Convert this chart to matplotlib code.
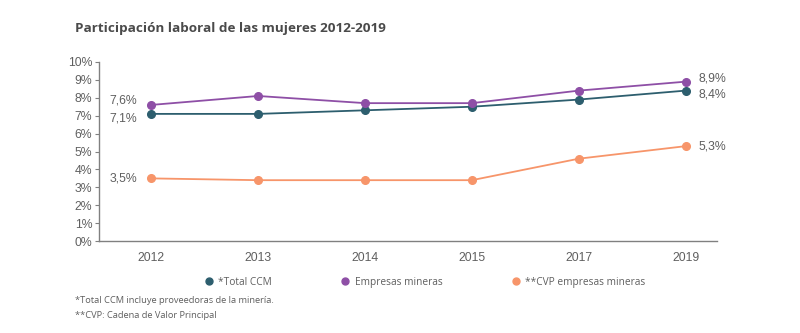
import matplotlib.pyplot as plt
from matplotlib.lines import Line2D

years = ['2012', '2013', '2014', '2015', '2017', '2019']
total_ccm = [7.1, 7.1, 7.3, 7.5, 7.9, 8.4]
empresas = [7.6, 8.1, 7.7, 7.7, 8.4, 8.9]
cvp = [3.5, 3.4, 3.4, 3.4, 4.6, 5.3]

series_names = ['*Total CCM', 'Empresas mineras', '**CVP empresas mineras']
colors = ['#2d5e6e', '#8e4fa6', '#f7956a']

narrow = ['Liberation Sans', 'DejaVu Sans']
gray = '#5f5f5f'

fig = plt.figure(figsize=(8, 3.33), dpi=100)
ax = fig.add_axes([0.124, 0.276, 0.772, 0.538])

x = list(range(len(years)))
for vals, c in zip([total_ccm, empresas, cvp], colors):
    ax.plot(x, vals, color=c, lw=1.3, marker='o', ms=5.5, zorder=3)

# first / last value labels, nudged apart where they crowd
left_dy = [-3, 3, 0]
right_dy = [-3, 2, 0]
for i, vals in enumerate([total_ccm, empresas, cvp]):
    ax.annotate(f'{vals[0]:.1f}%'.replace('.', ','), (x[0], vals[0]),
                xytext=(-10, left_dy[i]), textcoords='offset points', ha='right', va='center',
                fontsize=8.8, color=gray, family=narrow)
    ax.annotate(f'{vals[-1]:.1f}%'.replace('.', ','), (x[-1], vals[-1]),
                xytext=(9, right_dy[i]), textcoords='offset points',
                ha='left', va='center', fontsize=8.8, color=gray, family=narrow)

ax.set_xlim(-0.486, 5.29)
ax.set_ylim(0, 10)
ax.set_xticks(x)
ax.set_xticklabels(years)
ax.set_yticks(range(0, 11))
ax.set_yticklabels([f'{v}%' for v in range(0, 11)])
for lab in ax.get_xticklabels() + ax.get_yticklabels():
    lab.set_family(narrow)
    lab.set_fontsize(8.8)
    lab.set_color(gray)
ax.tick_params(axis='x', length=0, pad=8)
ax.tick_params(axis='y', length=3, width=0.8, color='#808080', pad=2)
for s in ['top', 'right']:
    ax.spines[s].set_visible(False)
for s in ['left', 'bottom']:
    ax.spines[s].set_color('#808080')
    ax.spines[s].set_linewidth(1)

fig.text(0.094, 0.905, 'Participación laboral de las mujeres 2012-2019',
         fontsize=9.7, fontweight='bold', color='#4a4a4a', family=['Open Sans', 'DejaVu Sans'])

handles = [Line2D([], [], color=c, marker='o', ls='none', ms=5) for c in colors]
leg = fig.legend(handles, series_names, loc='center left', bbox_to_anchor=(0.243, 0.153),
                 ncol=3, frameon=False, handletextpad=0.4, columnspacing=6.8,
                 prop={'family': 'Open Sans', 'size': 7.3}, handlelength=1.0)
for t in leg.get_texts():
    t.set_color(gray)

fig.text(0.094, 0.09, '*Total CCM incluye proveedoras de la minería.', fontsize=6.7,
         color=gray, family='Open Sans')
fig.text(0.094, 0.045, '**CVP: Cadena de Valor Principal', fontsize=6.7,
         color=gray, family='Open Sans')

fig.savefig('out.png', dpi=100)
